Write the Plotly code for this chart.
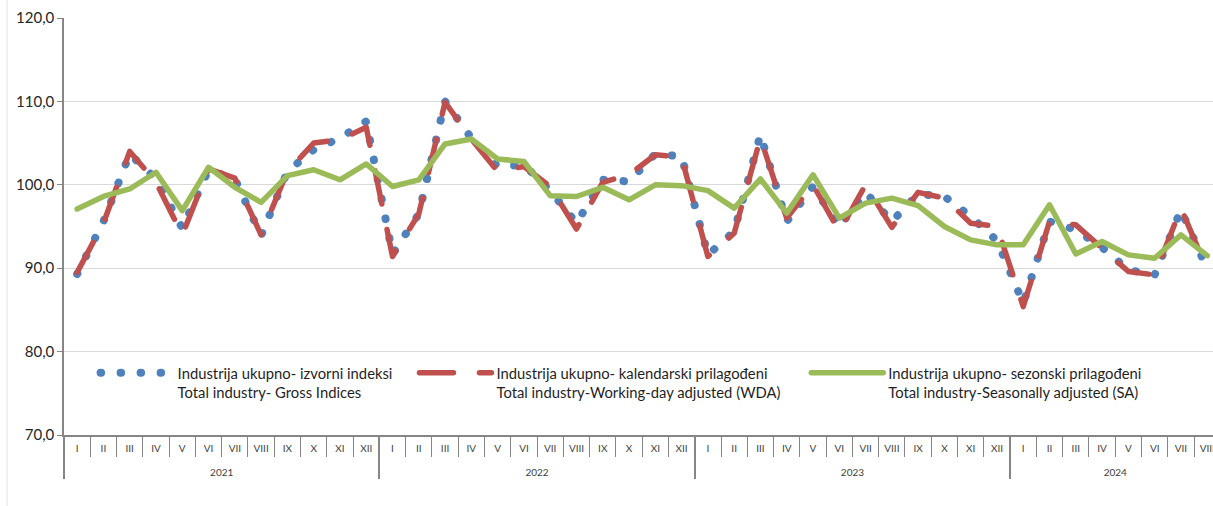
import plotly.graph_objects as go

# ---- data ----
months_roman = ["I", "II", "III", "IV", "V", "VI", "VII", "VIII", "IX", "X", "XI", "XII"]
years = ["2021"] * 12 + ["2022"] * 12 + ["2023"] * 12 + ["2024"] * 8
months = months_roman * 3 + months_roman[:8]

gross = [89.3, 95.6, 103.7, 100.7, 94.8, 101.8, 100.7, 93.9, 101.6, 104.2, 105.6, 107.6,
         91.7, 96.5, 110.0, 105.6, 102.2, 102.4, 99.3, 95.4, 100.6, 100.4, 103.7, 103.4,
         91.6, 94.4, 106.0, 95.6, 99.8, 95.0, 99.1, 95.6, 98.9, 98.6, 96.2, 93.3,
         85.8, 95.6, 94.6, 92.5, 89.8, 89.2, 97.0, 89.9]

wda = [89.5, 95.4, 104.0, 100.3, 94.0, 101.9, 100.8, 94.0, 101.6, 105.0, 105.4, 106.9,
       91.4, 96.5, 109.9, 105.5, 101.6, 102.2, 99.8, 94.7, 100.3, 101.2, 103.6, 103.3,
       91.4, 94.2, 105.6, 96.0, 100.0, 94.4, 100.0, 94.9, 99.1, 98.4, 95.4, 95.0,
       85.4, 95.6, 95.2, 92.5, 89.6, 89.2, 97.2, 89.8]

sa = [97.1, 98.6, 99.5, 101.5, 96.9, 102.1, 99.7, 97.9, 101.1, 101.8, 100.6, 102.5,
      99.8, 100.6, 104.9, 105.5, 103.1, 102.8, 98.7, 98.6, 99.7, 98.2, 100.0, 99.9,
      99.3, 97.2, 100.7, 96.6, 101.2, 96.0, 97.8, 98.4, 97.5, 95.0, 93.4, 92.8,
      92.8, 97.6, 91.7, 93.2, 91.6, 91.2, 94.0, 91.5]

names = [
    "Industrija ukupno- izvorni indeksi<br>Total industry- Gross Indices",
    "Industrija ukupno- kalendarski prilagođeni<br>Total industry-Working-day adjusted (WDA)",
    "Industrija ukupno- sezonski prilagođeni<br>Total industry-Seasonally adjusted (SA)",
]

# month labels get an empty second line so the year row sits lower, as in the reference
month_labels = [m + "<br>\u00a0" for m in months]
x = [years, month_labels]
FONT = "Lato"

fig = go.Figure()
fig.add_trace(go.Scatter(x=x, y=gross, mode="lines", name=names[0], legend="legend",
                         line=dict(color="#4F81BD", width=8, dash="0.5px,19.5px")))
fig.add_trace(go.Scatter(x=x, y=wda, mode="lines", name=names[1], legend="legend2",
                         line=dict(color="#C0504D", width=5.5, dash="34px,26px")))
fig.add_trace(go.Scatter(x=x, y=sa, mode="lines", name=names[2], legend="legend3",
                         line=dict(color="#9BBB59", width=5.5)))

leg_common = dict(orientation="v", yanchor="top", xanchor="left", valign="top",
                  bgcolor="rgba(0,0,0,0)", itemwidth=72,
                  font=dict(family=FONT, size=14.8, color="#1f1f1f"))

fig.update_layout(
    width=1213, height=506,
    margin=dict(l=64, r=0, t=18, b=71, autoexpand=False),
    paper_bgcolor="white", plot_bgcolor="white",
    separators=", ",
    font=dict(family=FONT, color="#404040"),
    showlegend=True,
    legend=dict(x=0.0275, y=0.188, **leg_common),
    legend2=dict(x=0.305, y=0.188, **leg_common),
    legend3=dict(x=0.646, y=0.188, **leg_common),
    xaxis=dict(type="multicategory", range=[-0.5, 43.22], automargin=False,
               showline=True, linecolor="#868686", linewidth=1.5,
               ticks="outside", tickson="boundaries", ticklen=20,
               tickcolor="#868686", tickwidth=1.2,
               showdividers=True, dividercolor="#868686", dividerwidth=1.5,
               ticklabelstandoff=3,
               tickfont=dict(family=FONT, size=10, color="#404040"),
               showgrid=False),
    yaxis=dict(range=[70, 120], dtick=10, tickformat=".1f", automargin=False,
               showgrid=True, gridcolor="#d9d9d9", gridwidth=1.2,
               showline=True, linecolor="#868686", linewidth=1.5,
               ticks="outside", ticklen=5, tickcolor="#868686",
               tickfont=dict(family=FONT, size=15, color="#262626"),
               zeroline=False),
    shapes=[dict(type="line", xref="paper", yref="paper",
                 x0=-0.0496, x1=-0.0496, y0=-0.2, y1=1.1,
                 line=dict(color="#e4e4e4", width=1))],
)

post = """
document.documentElement.style.margin = '0';
document.body.style.margin = '0';
document.body.style.overflow = 'hidden';
var gd = document.getElementById('{plot_id}');
function rnd(){
  gd.querySelectorAll('path.js-line').forEach(function(p){
    p.style.strokeLinecap = 'round';
    p.style.strokeLinejoin = 'round';
  });
}
rnd();
if (gd.on) { gd.on('plotly_afterplot', rnd); }
"""

fig.write_html("out.html", post_script=post, config={"displayModeBar": False})
